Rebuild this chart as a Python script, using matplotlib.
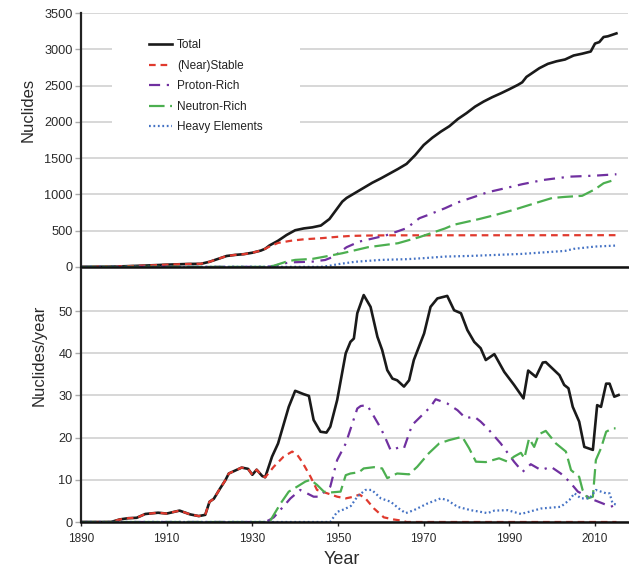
import matplotlib
matplotlib.use("Agg")
import matplotlib.pyplot as plt
from matplotlib.patches import Rectangle

plt.rcParams['font.family'] = ['Liberation Sans', 'DejaVu Sans']

# ---------------- cumulative number of known nuclides ----------------
total_cum_years = [1890, 1896, 1900, 1905, 1910, 1915, 1918, 1920, 1922, 1924, 1926, 1928, 1930,
                   1932, 1933, 1934, 1936, 1938, 1940, 1942, 1944, 1946, 1948, 1949, 1950, 1951,
                   1952, 1954, 1956, 1958, 1960, 1962, 1964, 1966, 1968, 1970, 1972, 1974, 1976,
                   1978, 1980, 1982, 1984, 1986, 1988, 1990, 1992, 1993, 1994, 1995, 1997, 1999,
                   2001, 2003, 2005, 2007, 2009, 2010, 2011, 2012, 2013, 2014, 2015]
total_cum = [0, 3, 8, 18, 30, 40, 42, 70, 110, 150, 165, 175, 195,
             225, 250, 295, 360, 440, 505, 530, 545, 570, 660, 740, 820, 900,
             950, 1020, 1090, 1160, 1220, 1285, 1350, 1420, 1540, 1680, 1780, 1865, 1940,
             2040, 2120, 2210, 2280, 2340, 2393, 2450, 2510, 2545, 2620, 2660, 2740, 2800,
             2835, 2860, 2915, 2940, 2970, 3080, 3100, 3170, 3180, 3200, 3220]

stable_cum_years = [1890, 1896, 1900, 1905, 1910, 1915, 1918, 1920, 1922, 1924, 1926, 1928, 1930,
                    1932, 1933, 1934, 1936, 1939, 1942, 1946, 1950, 1953, 1957, 1962, 2015]
stable_cum = [0, 3, 8, 18, 30, 40, 42, 70, 110, 150, 165, 175, 195,
              225, 250, 280, 330, 360, 380, 395, 415, 427, 432, 435, 437]

proton_cum_years = [1890, 1933, 1935, 1937, 1939, 1944, 1947, 1949, 1952, 1955, 1958, 1961, 1966,
                    1969, 1971, 1975, 1978, 1982, 1985, 1989, 1993, 1998, 2004, 2010, 2015]
proton_cum = [0, 0, 10, 45, 62, 72, 95, 142, 271, 349, 390, 430, 533,
              671, 715, 809, 890, 969, 1030, 1084, 1140, 1199, 1244, 1258, 1277]

neutron_cum_years = [1890, 1933, 1935, 1938, 1940, 1944, 1947, 1951, 1957, 1964, 1969, 1973,
                     1975, 1977, 1980, 1983, 1987, 1991, 1996, 2000, 2003, 2007, 2010, 2012, 2015]
neutron_cum = [0, 0, 15, 73, 96, 110, 142, 188, 271, 326, 410, 490,
               530, 580, 620, 660, 720, 786, 878, 950, 965, 980, 1070, 1153, 1208]

heavy_cum_years = [1890, 1946, 1948, 1950, 1954, 1960, 1966, 1970, 1975, 1981, 1993, 2003,
                   2005, 2010, 2015]
heavy_cum = [0, 0, 15, 37, 70, 96, 106, 120, 142, 151, 179, 220, 248, 280, 294]

# ---------------- discovery rate (nuclides per year) ----------------
total_rate_years = [1890, 1897, 1899, 1901, 1903, 1905, 1908, 1910, 1913, 1915.5, 1917.5, 1919,
                    1920, 1921, 1922.5, 1923.7, 1924.5, 1926, 1927.5, 1929, 1930, 1931, 1932.3,
                    1933, 1934.6, 1936, 1938.5, 1940, 1942, 1943.2, 1944.3, 1945.9, 1947.3,
                    1948.2, 1949.8, 1951.8, 1952.9, 1953.7, 1954.5, 1956, 1957.6, 1959.2,
                    1960.3, 1961.5, 1962.7, 1963.8, 1965.4, 1966.6, 1967.7, 1970.1, 1971.6,
                    1973.2, 1975.5, 1977.1, 1978.7, 1980.2, 1981.8, 1983.3, 1984.5, 1986.5,
                    1988.8, 1991.1, 1993.3, 1994.4, 1996.2, 1997.8, 1998.5, 2001.7, 2002.8,
                    2003.8, 2004.8, 2006.3, 2007.5, 2009.5, 2010.5, 2011.4, 2012.6, 2013.4,
                    2014.5, 2015.5]
total_rate = [0, 0, 0.6, 0.9, 1.0, 1.9, 2.2, 2.0, 2.7, 1.8, 1.4, 1.7,
              4.8, 5.5, 8.0, 9.9, 11.5, 12.2, 12.9, 12.6, 11.2, 12.4, 10.9,
              10.6, 15.5, 18.6, 27.3, 31.1, 30.3, 29.9, 24.2, 21.4, 21.2,
              22.6, 28.9, 40.0, 42.7, 43.5, 49.5, 53.8, 51.0, 43.9,
              40.8, 36.0, 34.0, 33.6, 32.1, 33.6, 38.4, 44.7, 51.0,
              53.0, 53.6, 50.2, 49.5, 45.5, 42.7, 41.2, 38.4, 39.8,
              35.6, 32.5, 29.3, 35.9, 34.4, 37.8, 37.9, 34.8, 32.5,
              31.7, 27.3, 23.8, 17.8, 17.1, 27.7, 27.3, 32.8, 32.8,
              29.7, 30.1]

stable_rate_years = [1890, 1897, 1899, 1901, 1903, 1905, 1908, 1910, 1913, 1915.5, 1917.5, 1919,
                     1920, 1921, 1922.5, 1923.7, 1924.5, 1926, 1927.5, 1929, 1930, 1931, 1932.3,
                     1933, 1935, 1937.3, 1939.3, 1940.5, 1941.6, 1943.6, 1945.1, 1947.5, 1949.8,
                     1951.8, 1953.7, 1955, 1956.4, 1958.4, 1960.7, 1963, 1965, 1966, 2015]
stable_rate = [0, 0, 0.6, 0.9, 1.0, 1.9, 2.2, 2.0, 2.7, 1.8, 1.4, 1.7,
               4.8, 5.5, 8.0, 9.9, 11.5, 12.2, 12.9, 12.6, 11.2, 12.4, 10.9,
               10.6, 13.1, 15.5, 16.7, 15.9, 14.3, 10.7, 7.6, 6.8, 6.0,
               5.6, 6.0, 6.5, 5.6, 3.2, 1.1, 0.6, 0.3, 0, 0]

proton_rate_years = [1890, 1933, 1934, 1935, 1938.9, 1941.2, 1944.3, 1945.5, 1948.2, 1949.8,
                     1951.8, 1954.5, 1955.3, 1956.8, 1958.4, 1960, 1961.1, 1962.3, 1964.6,
                     1965.4, 1967.3, 1969.3, 1971.6, 1972.8, 1975.5, 1977.9, 1979.8, 1981.8,
                     1983.3, 1984.9, 1988, 1991.1, 1993.1, 1995, 1997.4, 1999.7, 2002, 2004,
                     2006, 2008.3, 2009.8, 2011.8, 2013.7, 2015.3]
proton_rate = [0, 0, 0.5, 1.1, 5.6, 7.6, 6.0, 6.0, 8.4, 14.7,
               18.6, 26.9, 27.5, 27.7, 25.0, 22.2, 19.8, 17.0, 17.8,
               17.5, 23.0, 25.0, 27.3, 29.1, 28.1, 26.5, 24.6, 25.0,
               23.8, 22.2, 18.6, 14.3, 11.9, 13.7, 12.3, 13.1, 11.5, 9.6,
               7.2, 6.0, 5.2, 4.4, 3.6, 4.4]

neutron_rate_years = [1890, 1934, 1935, 1936.6, 1938.5, 1940.5, 1942.4, 1943.6, 1945.1, 1946.7,
                      1948.2, 1950.6, 1951.8, 1952.9, 1954.9, 1956, 1958.4, 1960.3, 1961.5,
                      1963.8, 1966.6, 1968.5, 1971.2, 1973.6, 1975.9, 1979, 1980.6, 1982.2,
                      1984.5, 1987.6, 1989.6, 1991.1, 1992.7, 1993.5, 1994.6, 1995.8, 1996.9,
                      1998.5, 2000.9, 2003.2, 2004.4, 2006.3, 2007.1, 2008.3, 2009.5, 2010.2,
                      2011.4, 2012.6, 2014.1, 2014.8]
neutron_rate = [0, 0, 1.7, 4.4, 7.2, 8.4, 9.6, 10.0, 8.8, 7.2,
                7.0, 7.2, 11.1, 11.5, 11.8, 12.7, 13.0, 12.7, 10.4,
                11.5, 11.3, 13.1, 16.3, 18.6, 19.4, 20.2, 17.5, 14.3,
                14.2, 15.1, 14.3, 15.5, 16.4, 15.1, 19.8, 17.8, 20.8,
                21.6, 18.6, 16.7, 12.3, 10.7, 7.6, 5.6, 6.0, 14.7,
                17.5, 21.4, 22.2, 22.2]

heavy_rate_years = [1890, 1948.2, 1949.8, 1951.4, 1953, 1954.5, 1956.4, 1957.9, 1960, 1962.3,
                    1964.2, 1965.8, 1967.7, 1970.9, 1974, 1975.5, 1977.9, 1981, 1983.3, 1984.9,
                    1986.5, 1989.6, 1992.7, 1997.4, 2002, 2004, 2005.2, 2006.7, 2008.7, 2010.2,
                    2012.6, 2013.4, 2014.1, 2015.3]
heavy_rate = [0, 0, 2.4, 3.0, 3.8, 6.0, 7.6, 7.6, 5.6, 4.8,
              3.2, 2.1, 2.8, 4.4, 5.6, 5.2, 3.6, 2.8, 2.4, 2.1,
              2.7, 2.8, 1.9, 3.2, 3.6, 5.2, 6.8, 5.6, 5.6, 7.6,
              6.8, 6.8, 4.4, 4.0]

series_labels = ['Total', '(Near)Stable', 'Proton-Rich', 'Neutron-Rich', 'Heavy Elements']
x_ticks = [1890, 1910, 1930, 1950, 1970, 1990, 2010]
top_yticks = [0, 500, 1000, 1500, 2000, 2500, 3000, 3500]
bottom_yticks = [0, 10, 20, 30, 40, 50]

# ---------------- styles ----------------
LW = 1.6
styles = [
    dict(color='#1a1a1a', linestyle='-', lw=1.9),
    dict(color='#e03a2e', dashes=(3.0, 2.2), lw=LW),
    dict(color='#7030a0', dashes=(5.0, 3.0, 1.0, 3.0), lw=LW),
    dict(color='#4caf50', dashes=(7.0, 2.5), lw=LW),
    dict(color='#4472c4', dashes=(0.8, 1.2), lw=LW),
]

fig = plt.figure(figsize=(6.29, 5.69), dpi=100)
ax_top = fig.add_axes([0.1288, 0.531, 0.8696, 0.446])
ax_bot = fig.add_axes([0.1288, 0.0826, 0.8696, 0.4448])

grid_col = '#d4d4d4'
text_col = '#2a2a2a'

for ax in (ax_top, ax_bot):
    ax.set_axisbelow(True)
    ax.grid(axis='y', color=grid_col, lw=1.3)
    ax.grid(axis='x', visible=False)
    for s in ('top', 'right'):
        ax.spines[s].set_visible(False)
    ax.spines['left'].set_linewidth(1.6)
    ax.spines['bottom'].set_linewidth(1.8)
    ax.spines['left'].set_color('#222222')
    ax.spines['bottom'].set_color('#111111')
    ax.set_xlim(1890, 2017.7)
    ax.tick_params(axis='y', length=4, width=1, color='#aaaaaa', pad=2,
                   labelsize=9.2, labelcolor=text_col)

top_data = [(total_cum_years, total_cum), (stable_cum_years, stable_cum),
            (proton_cum_years, proton_cum), (neutron_cum_years, neutron_cum),
            (heavy_cum_years, heavy_cum)]
bot_data = [(total_rate_years, total_rate), (stable_rate_years, stable_rate),
            (proton_rate_years, proton_rate), (neutron_rate_years, neutron_rate),
            (heavy_rate_years, heavy_rate)]

# series are drawn in order, so the dashed components overlay the total curve
handles = []
for i in range(5):
    (xs, ys), st = top_data[i], styles[i]
    ln, = ax_top.plot(xs, ys, label=series_labels[i], zorder=2 + i * 0.1, **st)
    handles.append(ln)
    (xs, ys) = bot_data[i]
    ax_bot.plot(xs, ys, zorder=2 + i * 0.1, **st)

# top panel
ax_top.set_ylim(0, 3500)
ax_top.set_yticks(top_yticks)
ax_top.set_xticks([])
ax_top.set_ylabel('Nuclides', fontsize=12, color=text_col, va='center')
ax_top.yaxis.set_label_coords(-0.096, 0.618)
ax_top.add_patch(Rectangle((0.057, 0.50), 0.343, 0.43, transform=ax_top.transAxes,
                           facecolor='white', edgecolor='none', zorder=1))
leg = ax_top.legend(handles=handles, labels=series_labels, loc='upper left',
                    bbox_to_anchor=(0.125, 0.897), frameon=False, fontsize=8.5,
                    handlelength=1.9, handletextpad=0.45, labelspacing=0.72,
                    borderaxespad=0, borderpad=0)
for t in leg.get_texts():
    t.set_color('#222222')

# bottom panel
ax_bot.set_ylim(0, 60)
ax_bot.set_yticks(bottom_yticks)
ax_bot.set_xticks(x_ticks)
ax_bot.tick_params(axis='x', length=3, width=1, color='#222222', pad=5,
                   labelsize=8.5, labelcolor=text_col)
ax_bot.set_ylabel('Nuclides/year', fontsize=12, color=text_col, va='center')
ax_bot.yaxis.set_label_coords(-0.076, 0.66)
ax_bot.set_xlabel('Year', fontsize=13, color=text_col, va='center')
ax_bot.xaxis.set_label_coords(0.477, -0.15)

fig.savefig('out.png', dpi=100)
